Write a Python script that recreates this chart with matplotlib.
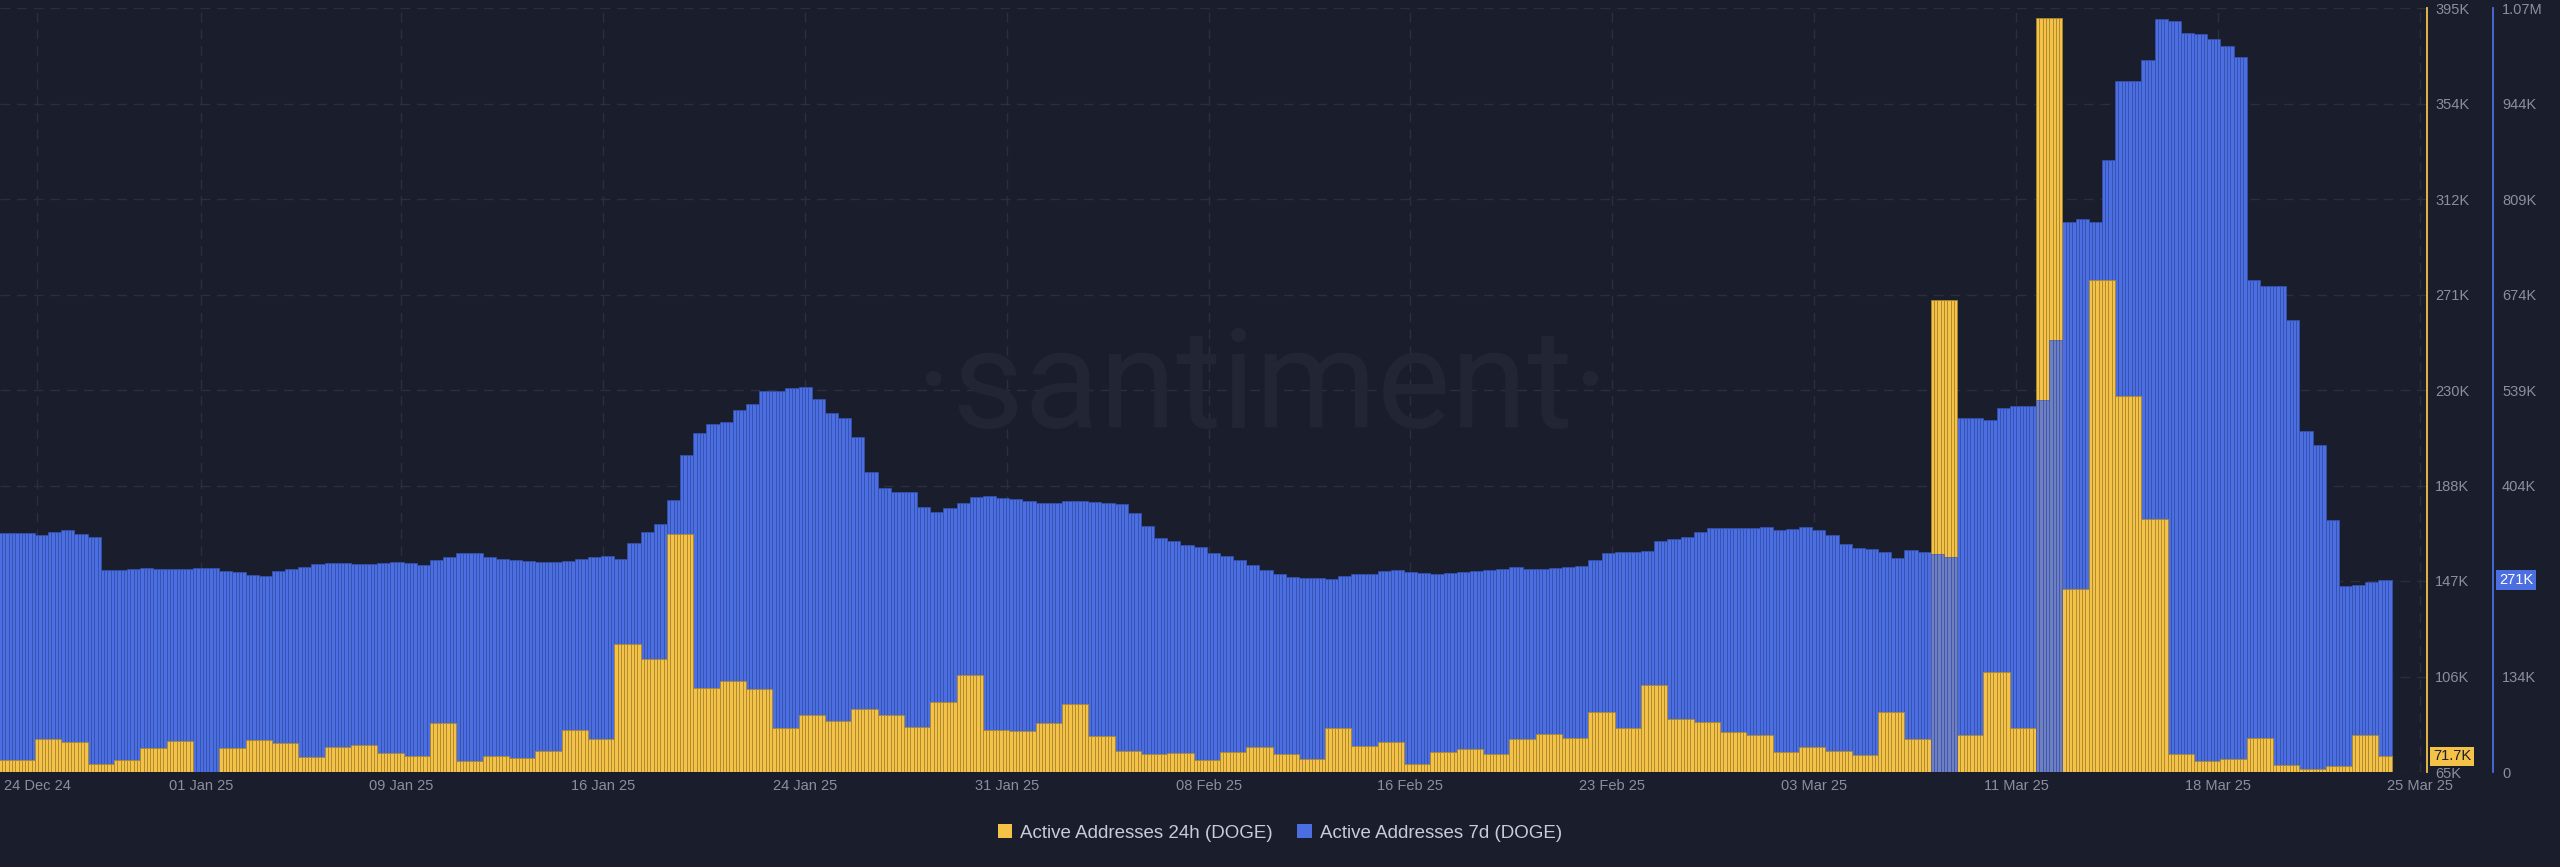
import numpy as np
import matplotlib
matplotlib.use("Agg")
import matplotlib.pyplot as plt
from matplotlib import font_manager
from matplotlib.patches import Patch

# ---------------- data ----------------
# Active Addresses 24h (DOGE), one value per day (thousands), first value = partial day at left edge
YELLOW_24H = [70.2, 70.2, 79.3, 78.0, 68.5, 70.2, 75.4, 78.4, 64.0, 75.4,
              78.8, 77.5, 71.5, 75.8, 76.7, 73.2, 71.9, 86.2, 69.8, 71.9,
              71.0, 74.1, 83.1, 79.3, 120.3, 113.8, 167.8, 101.3, 104.3, 100.9,
              84.0, 89.6, 87.0, 92.2, 89.6, 84.4, 95.2, 106.9, 83.1, 82.7,
              86.2, 94.4, 80.6, 74.1, 72.8, 73.2, 70.2, 73.6, 75.8, 72.8,
              70.6, 84.0, 76.2, 78.0, 68.5, 73.6, 74.9, 72.8, 79.3, 81.4,
              79.7, 90.9, 84.0, 102.6, 87.9, 86.6, 82.3, 81.0, 73.6, 75.8,
              74.1, 72.3, 90.9, 79.3, 268.9, 81.0, 108.2, 84.0, 390.7, 144.0,
              277.5, 227.4, 174.3, 72.8, 69.8, 70.6, 79.7, 68.0, 66.3, 67.6,
              81.0, 71.7]

# Active Addresses 7d (DOGE), one value per half day (thousands)
BLUE_7D = [337.4, 337.4, 337.4, 337.4, 334.6, 338.8, 341.6, 336.0, 331.7, 285.2,
           285.2, 286.6, 288.0, 286.6, 286.6, 286.6, 288.0, 288.0, 283.8, 282.3,
           278.1, 276.7, 283.8, 286.6, 289.4, 293.6, 295.0, 295.0, 293.6, 293.6,
           295.0, 296.5, 295.0, 292.2, 299.3, 303.5, 309.2, 309.2, 303.5, 300.7,
           299.3, 297.9, 296.5, 296.5, 297.9, 300.7, 303.5, 304.9, 300.7, 323.3,
           338.8, 350.1, 384.0, 447.5, 478.6, 491.3, 494.1, 511.0, 519.5, 537.9,
           537.9, 542.1, 543.5, 526.6, 506.8, 499.7, 472.9, 423.5, 400.9, 395.3,
           395.3, 374.1, 367.0, 372.7, 379.7, 388.2, 389.6, 386.8, 385.4, 382.6,
           379.7, 379.7, 382.6, 382.6, 381.2, 379.7, 378.3, 365.6, 347.3, 330.3,
           326.1, 320.5, 317.6, 309.2, 304.9, 299.3, 292.2, 285.2, 279.5, 275.3,
           273.9, 273.9, 272.5, 276.7, 279.5, 279.5, 283.8, 285.2, 282.3, 280.9,
           279.5, 280.9, 282.3, 283.8, 285.2, 286.6, 289.4, 286.6, 286.6, 288.0,
           289.4, 290.8, 299.3, 309.2, 310.6, 310.6, 312.0, 326.1, 328.9, 331.7,
           338.8, 344.5, 344.5, 344.5, 344.5, 345.9, 341.6, 343.0, 345.9, 341.6,
           334.6, 321.9, 316.2, 314.8, 310.6, 302.1, 313.4, 310.6, 307.8, 303.5,
           499.7, 499.7, 496.9, 513.9, 516.7, 516.7, 525.2, 609.9, 776.4, 780.7,
           776.4, 864.0, 975.5, 975.5, 1005.1, 1063.0, 1060.2, 1043.2, 1041.8, 1034.8,
           1024.9, 1009.4, 694.6, 686.1, 686.1, 638.1, 481.4, 461.6, 355.7, 262.6,
           264.0, 268.2, 271.0]

X_LABELS = ['24 Dec 24', '01 Jan 25', '09 Jan 25', '16 Jan 25', '24 Jan 25', '31 Jan 25',
            '08 Feb 25', '16 Feb 25', '23 Feb 25', '03 Mar 25', '11 Mar 25', '18 Mar 25',
            '25 Mar 25']
Y24_LABELS = ['65K', '106K', '147K', '188K', '230K', '271K', '312K', '354K', '395K']
Y7_LABELS = ['0', '134K', '', '404K', '539K', '674K', '809K', '944K', '1.07M']
LAST_24H_LABEL = '71.7K'
LAST_7D_LABEL = '271K'

# ---------------- style ----------------
BG = '#1a1d2b'
YEL = '#f3c246'
YEL_EDGE = '#a8842c'
BLU = '#4b6ee1'
BLU_EDGE = '#3450b0'
GRID = '#2a2e3e'
TICK = '#8a8fa0'
WM = '#212534'

avail = {f.name for f in font_manager.fontManager.ttflist}
def pick(*names):
    for n in names:
        if n in avail:
            return n
    return 'DejaVu Sans'

FONT = pick('Liberation Sans', 'Roboto', 'Lato')
WMFONT = pick('Liberation Sans Narrow', 'Roboto', 'Open Sans')
plt.rcParams['font.family'] = [FONT, 'DejaVu Sans']

W, H = 2560, 867
fig = plt.figure(figsize=(W / 100, H / 100), dpi=100, facecolor=BG)
ax = fig.add_axes([0, (H - 772) / H, 2427 / W, 764 / H])
ax.set_facecolor(BG)

SUB = 8
n_sub = len(BLUE_7D) * 4
x = -2 + np.arange(n_sub) / SUB
y24 = np.repeat(YELLOW_24H, SUB)[:n_sub]
y7 = np.repeat(BLUE_7D, 4)[:n_sub]

Y24_MIN, Y24_MAX = 65, 395
Y7_MAX = 1078.5

# blue (7d) on primary axes
ax.bar(x, y7, width=1 / SUB, align='edge', color=BLU, edgecolor=BLU_EDGE, linewidth=0.55, zorder=2)
ax.set_ylim(0, Y7_MAX)
ax.set_xlim(-35 / 26.33, (2427 - 35) / 26.33)

# yellow (24h) on twin axes (drawn in front)
ay = ax.twinx()
ay.bar(x, y24, width=1 / SUB, align='edge', color=YEL, edgecolor=YEL_EDGE, linewidth=0.55, zorder=2)
ay.set_ylim(Y24_MIN, Y24_MAX)

# where the 24h bar is taller than the 7d bar, the 7d bar shows through semi-transparently
ao = ax.twinx()
mask = (y24 - Y24_MIN) / (Y24_MAX - Y24_MIN) > y7 / Y7_MAX
ao.bar(x[mask], y7[mask], width=1 / SUB, align='edge', color=BLU, alpha=0.78,
       edgecolor=BLU_EDGE, linewidth=0.55)
ao.set_ylim(0, Y7_MAX)
ao.axis('off')

# ticks
xt = [0.08, 6.3] + [13.9 + 7.668 * i for i in range(11)]
ax.set_xticks(xt)
ax.set_xticklabels(X_LABELS)
ax.tick_params(axis='x', length=0, pad=5, colors=TICK, labelsize=10.5)

ax.set_yticks(np.linspace(0, Y7_MAX, 9))
ax.set_yticklabels(Y7_LABELS)
ax.yaxis.tick_right()
ax.tick_params(axis='y', length=0, pad=6.5, colors=TICK, labelsize=10.5)

ay.set_yticks(np.linspace(Y24_MIN, Y24_MAX, 9))
ay.set_yticklabels(Y24_LABELS)
ay.tick_params(axis='y', length=0, pad=6, colors=TICK, labelsize=10.5)

for s in ['top', 'left', 'bottom']:
    ax.spines[s].set_visible(False)
    ay.spines[s].set_visible(False)
ax.spines['right'].set_position(('axes', 2493 / 2427))
ax.spines['right'].set_color(BLU)
ax.spines['right'].set_linewidth(1.3)
ay.spines['right'].set_color(YEL)
ay.spines['right'].set_linewidth(1.3)

ax.set_axisbelow(True)
ax.grid(True, color=GRID, linestyle=(0, (7, 5)), linewidth=1.0, zorder=0)

# watermark
ax.text(0.52, 0.45, '\u00b7santiment\u00b7', transform=ax.transAxes, ha='center', va='baseline',
        fontsize=100, color=WM, family=[WMFONT, 'DejaVu Sans'], zorder=1)

# last-value badges
ay.annotate(LAST_24H_LABEL, xy=(1, YELLOW_24H[-1]), xycoords=('axes fraction', 'data'),
            xytext=(6, 0), textcoords='offset pixels', ha='left', va='center',
            fontsize=10.5, color='#1a1d2b', annotation_clip=False,
            bbox=dict(boxstyle='square,pad=0.2', fc=YEL, ec='none'), zorder=10)
ax.annotate(LAST_7D_LABEL, xy=(2493 / 2427, BLUE_7D[-1]), xycoords=('axes fraction', 'data'),
            xytext=(6, 0), textcoords='offset pixels', ha='left', va='center',
            fontsize=10.5, color='white', annotation_clip=False,
            bbox=dict(boxstyle='square,pad=0.2', fc=BLU, ec='none'), zorder=10)

# legend
handles = [Patch(facecolor=YEL, edgecolor='none', label='Active Addresses 24h (DOGE)'),
           Patch(facecolor=BLU, edgecolor='none', label='Active Addresses 7d (DOGE)')]
fig.legend(handles=handles, loc='center', bbox_to_anchor=(0.5, 1 - 833 / H), ncol=2,
           frameon=False, fontsize=13.5, labelcolor='#c9ccd6', handlelength=0.75,
           handleheight=0.75, handletextpad=0.45, columnspacing=1.3)

fig.savefig('out.png', dpi=100, facecolor=BG)
